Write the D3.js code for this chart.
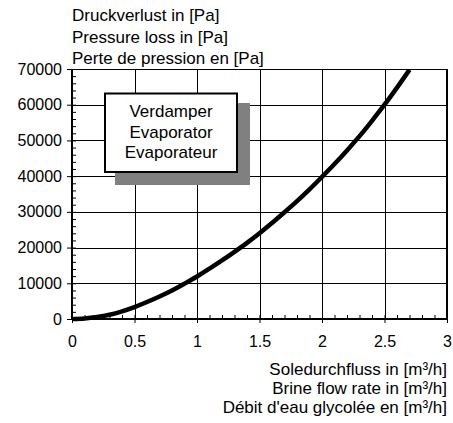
<!DOCTYPE html>
<html>
<head>
<meta charset="utf-8">
<script src="https://cdn.jsdelivr.net/npm/d3@7"></script>
<style>
  body { margin: 0; background: #fff; }
  svg text { font-family: "Liberation Sans", Arial, sans-serif; fill: #000; }
</style>
</head>
<body>
<svg id="chart"></svg>
<script>
// flow rate [m3/h] and pressure loss [Pa]
var flow     = [0, 0.1, 0.2, 0.3, 0.4, 0.5, 0.6, 0.7, 0.8, 0.9, 1.0, 1.1, 1.2, 1.3, 1.4,
                1.5, 1.6, 1.7, 1.8, 1.9, 2.0, 2.1, 2.2, 2.3, 2.4, 2.5, 2.6, 2.7]
var pressure = [0, 150, 550, 1200, 2150, 3350, 4750, 6300, 8000, 9900, 11900, 14100, 16400, 18800, 21300,
                24000, 26900, 29900, 33000, 36300, 39800, 43400, 47200, 51200, 55500, 60000, 64800, 69800]

var xTicks = [0, 0.5, 1, 1.5, 2, 2.5, 3]
var yTicks = [0, 10000, 20000, 30000, 40000, 50000, 60000, 70000]
var yTitle = ["Druckverlust in [Pa]", "Pressure loss in [Pa]", "Perte de pression en [Pa]"]
var xTitle = ["Soledurchfluss in [m³/h]", "Brine flow rate in [m³/h]", "Débit d'eau glycolée en [m³/h]"]
var boxLabel = ["Verdamper", "Evaporator", "Evaporateur"]

var dimensions = {
    width: 453,
    height: 423,
    margin: { top: 69, bottom: 104, right: 6, left: 72 }
}

var svg = d3.select("#chart")
            .attr("width", dimensions.width)
            .attr("height", dimensions.height)

var xScale = d3.scaleLinear()
               .domain([0, 3])
               .range([dimensions.margin.left, dimensions.width - dimensions.margin.right])

var yScale = d3.scaleLinear()
               .domain([0, 70000])
               .range([dimensions.height - dimensions.margin.bottom, dimensions.margin.top])

var x0 = xScale(0), x1 = xScale(3), y0 = yScale(0), y1 = yScale(70000)

// grid
svg.append("g").selectAll("line")
   .data(yTicks)
   .join("line")
   .attr("x1", x0).attr("x2", x1)
   .attr("y1", d => Math.round(yScale(d)) + 0.5)
   .attr("y2", d => Math.round(yScale(d)) + 0.5)
   .style("stroke", "#000").style("stroke-width", 1)

svg.append("g").selectAll("line")
   .data(xTicks)
   .join("line")
   .attr("x1", d => Math.round(xScale(d)) + 0.5)
   .attr("x2", d => Math.round(xScale(d)) + 0.5)
   .attr("y1", y1).attr("y2", y0)
   .style("stroke", "#000").style("stroke-width", 1)

// minor ticks (inside)
var xMinor = d3.axisBottom(xScale).tickValues(d3.range(0, 31).map(d => d / 10)).tickSize(-4).tickFormat("")
svg.append("g")
   .attr("transform", `translate(0,${y0})`)
   .call(xMinor)
   .call(g => g.select(".domain").remove())

var yMinor = d3.axisLeft(yScale).tickValues(d3.range(0, 36).map(d => d * 2000)).tickSize(-4).tickFormat("")
svg.append("g")
   .attr("transform", `translate(${x0},0)`)
   .call(yMinor)
   .call(g => g.select(".domain").remove())

// major axes
var xAxisgen = d3.axisBottom(xScale).tickValues(xTicks).tickSize(4).tickSizeOuter(0).tickFormat(d => String(d))
var xAxis = svg.append("g")
               .attr("transform", `translate(0,${y0})`)
               .call(xAxisgen)
xAxis.select(".domain").remove()
xAxis.selectAll("text").style("font-size", "16px").attr("y", 17).attr("dy", "0.71em")
xAxis.selectAll("line").style("stroke-width", 1)

var yAxisgen = d3.axisLeft(yScale).tickValues(yTicks).tickSize(5).tickSizeOuter(0).tickFormat(d3.format("d"))
var yAxis = svg.append("g")
               .attr("transform", `translate(${x0},0)`)
               .call(yAxisgen)
yAxis.select(".domain").remove()
yAxis.selectAll("text").style("font-size", "16px").attr("x", -10)

// frame
svg.append("line").attr("x1", x0).attr("x2", x1).attr("y1", y1 + 0.5).attr("y2", y1 + 0.5).style("stroke", "#000")
svg.append("line").attr("x1", x1 - 0.5).attr("x2", x1 - 0.5).attr("y1", y1).attr("y2", y0).style("stroke", "#000")
svg.append("line").attr("x1", x0).attr("x2", x0).attr("y1", y1).attr("y2", y0 + 1).style("stroke", "#000").style("stroke-width", 2)
svg.append("line").attr("x1", x0 - 1).attr("x2", x1).attr("y1", y0).attr("y2", y0).style("stroke", "#000").style("stroke-width", 2)

// label box with shadow
svg.append("rect").attr("x", 115).attr("y", 103).attr("width", 135).attr("height", 82).style("fill", "#808080")
svg.append("rect").attr("x", 105).attr("y", 93.5).attr("width", 132).attr("height", 78.5)
   .style("fill", "#fff").style("stroke", "#000").style("stroke-width", 2)
svg.append("g").selectAll("text")
   .data(boxLabel)
   .join("text")
   .attr("x", 171)
   .attr("y", (d, i) => 117 + i * 20.5)
   .attr("text-anchor", "middle")
   .style("font-size", "17px")
   .text(d => d)

// curve
var line = d3.line()
             .x((d, i) => xScale(flow[i]))
             .y(d => yScale(d))
             .curve(d3.curveMonotoneX)

svg.append("clipPath").attr("id", "clip")
   .append("rect").attr("x", x0 - 3).attr("y", y1).attr("width", x1 - x0 + 3).attr("height", y0 - y1 + 3)

svg.append("path")
   .datum(pressure)
   .attr("d", line)
   .attr("clip-path", "url(#clip)")
   .style("fill", "none")
   .style("stroke", "#000")
   .style("stroke-width", 4.5)

// titles
svg.append("g").selectAll("text")
   .data(yTitle)
   .join("text")
   .attr("x", 72)
   .attr("y", (d, i) => 21 + i * 21.6)
   .style("font-size", "17px")
   .text(d => d)

svg.append("g").selectAll("text")
   .data(xTitle)
   .join("text")
   .attr("x", 447)
   .attr("y", (d, i) => 374.5 + i * 19)
   .attr("text-anchor", "end")
   .style("font-size", "17px")
   .text(d => d)
</script>
</body>
</html>
